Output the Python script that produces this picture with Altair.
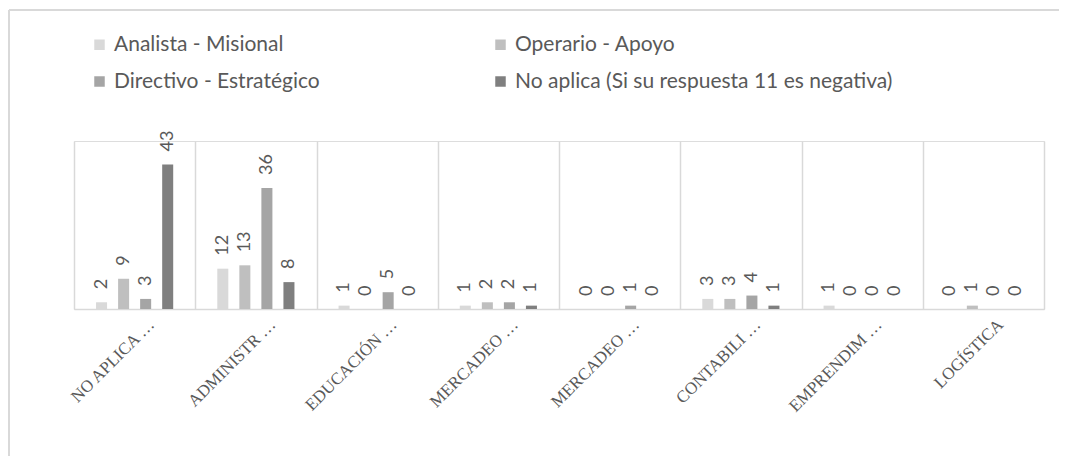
import json
import altair as alt
import pandas as pd

# ---- data ----
categories = ["NO APLICA …", "ADMINISTR …", "EDUCACIÓN …", "MERCADEO …",
              "MERCADEO …", "CONTABILI …", "EMPRENDIM …", "LOGÍSTICA"]
series = ["Analista - Misional", "Operario - Apoyo",
          "Directivo - Estratégico", "No aplica (Si su respuesta 11 es negativa)"]
analista = [2, 12, 1, 1, 0, 3, 1, 0]
operario = [9, 13, 0, 2, 0, 3, 0, 1]
directivo = [3, 36, 5, 2, 1, 4, 0, 0]
no_aplica = [43, 8, 0, 1, 0, 1, 0, 0]
colors = ["#d9d9d9", "#bfbfbf", "#a5a5a5", "#7f7f7f"]

rows = []
for s, vals in zip(series, [analista, operario, directivo, no_aplica]):
    for i, v in enumerate(vals):
        rows.append({"idx": i, "serie": s, "valor": v})
df = pd.DataFrame(rows)

label_expr = json.dumps(categories, ensure_ascii=False) + "[datum.value]"

x_enc = alt.X(
    "idx:O",
    scale=alt.Scale(paddingInner=0, paddingOuter=0),
    axis=alt.Axis(
        title=None,
        labelExpr=label_expr,
        labelAngle=315,
        labelAlign="right",
        labelBaseline="top",
        labelPadding=7,
        labelOffset=11,
        labelFont="Liberation Serif",
        labelFontSize=17,
        labelColor="#595959",
        ticks=False,
        grid=True,
        gridColor="#d9d9d9",
        gridWidth=1.5,
        tickBand="extent",
        domainColor="#d9d9d9",
        domainWidth=1.5,
    ),
)
xoff_enc = alt.XOffset("serie:N", sort=series,
                       scale=alt.Scale(paddingInner=0.5, paddingOuter=1))
y_enc = alt.Y("valor:Q", scale=alt.Scale(domain=[0, 50]), axis=None)

base = alt.Chart(df)

bars = base.mark_bar().encode(
    x=x_enc,
    xOffset=xoff_enc,
    y=y_enc,
    color=alt.Color(
        "serie:N",
        sort=series,
        scale=alt.Scale(domain=series, range=colors),
        legend=alt.Legend(
            title=None,
            orient="none",
            direction="horizontal",
            legendX=15,
            legendY=-107,
            columns=2,
            columnPadding=170,
            rowPadding=15,
            symbolType="square",
            symbolSize=110,
            symbolStrokeWidth=0,
            labelOffset=4,
            labelFont="Lato",
            labelFontSize=21,
            labelColor="#595959",
            labelLimit=700,
        ),
    ),
)

labels = base.mark_text(
    angle=270, align="left", baseline="middle", dx=13,
    font="Lato", fontSize=18, color="#595959",
).encode(
    x=x_enc,
    xOffset=xoff_enc,
    y=y_enc,
    text="valor:Q",
)

frame = alt.Data(values=[{}])
top_line = alt.Chart(frame).mark_rule(color="#d9d9d9", strokeWidth=2).encode(
    x=alt.value(-65), x2=alt.value(1000), y=alt.value(-131)
)
left_line = alt.Chart(frame).mark_rule(color="#d9d9d9", strokeWidth=2).encode(
    x=alt.value(-65), y=alt.value(-131), y2=alt.value(330)
)

chart = alt.layer(bars, labels, top_line, left_line).properties(
    width=970,
    height=168,
    padding={"left": 66, "top": 133, "right": 15, "bottom": 147},
    autosize=alt.AutoSizeParams(type="none"),
).configure_view(stroke=None).configure(background="white")

chart.save("out.html", embed_options={"renderer": "svg", "actions": False})
